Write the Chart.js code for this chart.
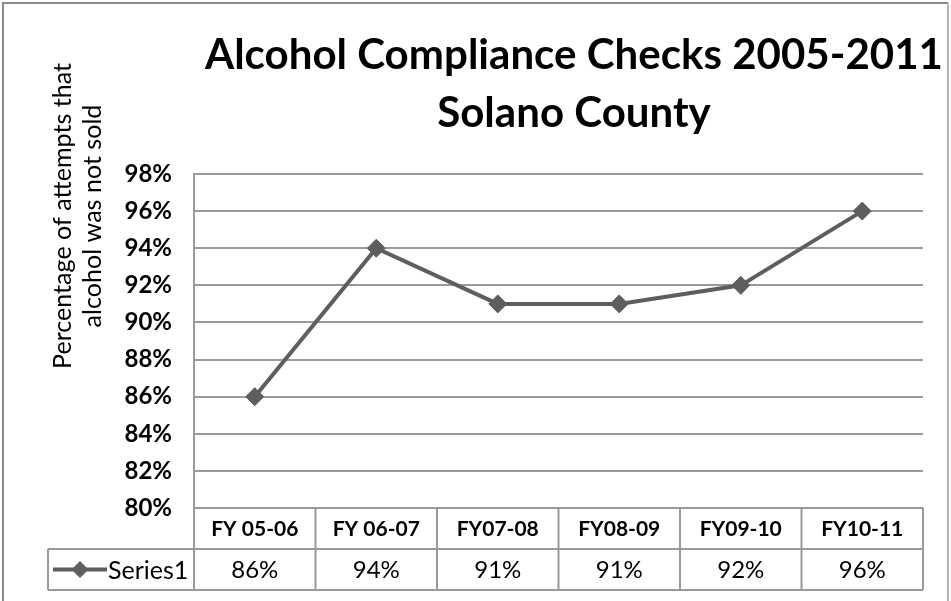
<!DOCTYPE html>
<html>
<head>
<meta charset="utf-8">
<title>Alcohol Compliance Checks 2005-2011</title>
<script src="https://cdn.jsdelivr.net/npm/chart.js@4.4.1/dist/chart.umd.min.js"></script>
<style>
  html, body { margin: 0; padding: 0; background: #fff; }
  #chart { display: block; }
</style>
</head>
<body>
<canvas id="chart" width="951" height="601"></canvas>
<script>
// Данные графика
const categories = ['FY 05-06', 'FY 06-07', 'FY07-08', 'FY08-09', 'FY09-10', 'FY10-11'];
const seriesValues = [86, 94, 91, 91, 92, 96];
const seriesName = 'Series1';
const yMin = 80;
const yMax = 98;
const yStep = 2;
const titleLines = ['Alcohol Compliance Checks 2005-2011', 'Solano County'];
const yTitleLines = ['Percentage of attempts that', 'alcohol was not sold'];

const FONT = 'Lato, Calibri, "Open Sans", sans-serif';
const LINE_COLOR = '#5e5e5e';
const GRID_COLOR = '#9a9a9a';

// подбираем размер шрифта под нужную ширину
function fitFont(ctx, text, weight, width) {
    ctx.font = weight + ' 40px ' + FONT;
    const size = 40 * width / ctx.measureText(text).width;
    return weight + ' ' + size.toFixed(1) + 'px ' + FONT;
}

// Рамка и заголовки
const decorPlugin = {
    id: 'decor',
    afterDraw(chart) {
        const ctx = chart.ctx;
        ctx.save();
        // рамка вокруг диаграммы
        ctx.lineWidth = 2;
        ctx.strokeStyle = '#8a8a8a';
        ctx.beginPath();
        ctx.moveTo(3, 620); ctx.lineTo(3, 3); ctx.lineTo(948, 3);
        ctx.stroke();
        ctx.strokeStyle = '#b4b4b4';
        ctx.beginPath();
        ctx.moveTo(948, 3); ctx.lineTo(948, 620);
        ctx.stroke();

        // заголовок: шрифт чуть сжат по горизонтали (как Calibri)
        ctx.fillStyle = '#000';
        ctx.textAlign = 'center';
        ctx.textBaseline = 'alphabetic';
        ctx.font = 'bold 42px ' + FONT;
        const sx = 738 / ctx.measureText(titleLines[0]).width;
        ctx.save();
        ctx.translate(574, 0);
        ctx.scale(sx, 1);
        ctx.fillText(titleLines[0], 0, 69);
        ctx.fillText(titleLines[1], 0, 127);
        ctx.restore();

        // подпись оси Y (повернутая)
        ctx.translate(78, 216);
        ctx.rotate(-Math.PI / 2);
        ctx.font = fitFont(ctx, yTitleLines[0], 'normal', 306);
        ctx.textBaseline = 'middle';
        ctx.fillText(yTitleLines[0], 0, -15);
        ctx.fillText(yTitleLines[1], 0, 15);
        ctx.restore();
    }
};

// Таблица данных под осью X
const tablePlugin = {
    id: 'dataTable',
    afterDraw(chart) {
        const ctx = chart.ctx;
        const x = chart.scales.x;
        const top = chart.chartArea.bottom;
        const row1 = top + 41;
        const row2 = row1 + 41;
        const legendLeft = 48;
        const colW = x.width / categories.length;

        ctx.save();
        ctx.strokeStyle = GRID_COLOR;
        ctx.lineWidth = 2;
        ctx.beginPath();
        ctx.moveTo(legendLeft, row1); ctx.lineTo(x.right, row1);
        ctx.moveTo(legendLeft, row2); ctx.lineTo(x.right, row2);
        ctx.moveTo(legendLeft, row1); ctx.lineTo(legendLeft, row2);
        for (let i = 0; i <= categories.length; i++) {
            const px = x.left + i * colW;
            ctx.moveTo(px, top); ctx.lineTo(px, row2);
        }
        ctx.stroke();

        ctx.fillStyle = '#000';
        ctx.textAlign = 'center';
        ctx.textBaseline = 'middle';
        categories.forEach((cat, i) => {
            const cx = x.getPixelForValue(i);
            ctx.font = 'bold 21px ' + FONT;
            ctx.fillText(cat, cx, (top + row1) / 2 + 1);
            ctx.font = 'normal 24px ' + FONT;
            ctx.fillText(seriesValues[i] + '%', cx, (row1 + row2) / 2 + 1);
        });

        // легенда серии в ячейке таблицы
        const ly = (row1 + row2) / 2;
        ctx.strokeStyle = LINE_COLOR;
        ctx.lineWidth = 4;
        ctx.beginPath();
        ctx.moveTo(53, ly); ctx.lineTo(107, ly);
        ctx.stroke();
        ctx.fillStyle = LINE_COLOR;
        ctx.beginPath();
        ctx.moveTo(80, ly - 8.5); ctx.lineTo(88.5, ly); ctx.lineTo(80, ly + 8.5); ctx.lineTo(71.5, ly);
        ctx.closePath();
        ctx.fill();
        ctx.fillStyle = '#000';
        ctx.textAlign = 'left';
        ctx.font = 'normal 25px ' + FONT;
        ctx.fillText(seriesName, 108, ly + 1);
        ctx.restore();
    }
};

document.addEventListener('DOMContentLoaded', function() {
    new Chart(document.getElementById('chart'), {
        type: 'line',
        data: {
            labels: categories,
            datasets: [{
                label: seriesName,
                data: seriesValues,
                borderColor: LINE_COLOR,
                backgroundColor: LINE_COLOR,
                borderWidth: 4,
                pointStyle: 'rectRot',
                pointRadius: 9,
                pointBorderWidth: 1,
                pointBackgroundColor: LINE_COLOR,
                pointBorderColor: LINE_COLOR,
                tension: 0,
                clip: false
            }]
        },
        options: {
            responsive: false,
            devicePixelRatio: 1,
            animation: false,
            layout: {
                padding: { top: 174, right: 28, bottom: 0, left: 0 }
            },
            plugins: {
                legend: { display: false },
                tooltip: { enabled: false },
                title: { display: false }
            },
            scales: {
                x: {
                    type: 'category',
                    offset: true,
                    grid: { display: false },
                    border: { display: false },
                    ticks: { display: false },
                    afterFit(scale) { scale.height = 93; }
                },
                y: {
                    min: yMin,
                    max: yMax,
                    grid: { color: GRID_COLOR, lineWidth: 2, drawTicks: false },
                    border: { display: true, color: GRID_COLOR, width: 2 },
                    ticks: {
                        stepSize: yStep,
                        padding: 22,
                        color: '#000',
                        font: { family: FONT, size: 24, weight: 'bold' },
                        callback: v => v + '%'
                    },
                    afterFit(scale) { scale.width = 194; }
                }
            }
        },
        plugins: [decorPlugin, tablePlugin]
    });
});
</script>
</body>
</html>
